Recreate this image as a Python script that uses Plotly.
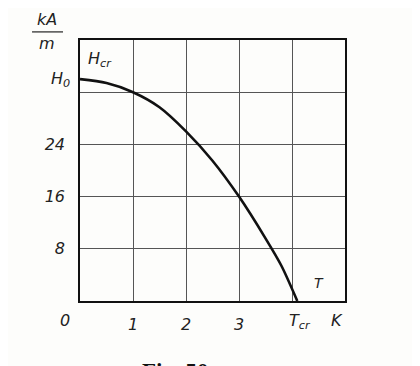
import plotly.graph_objects as go

# Critical field vs temperature
T_vals = [0, 0.5, 1.0, 1.5, 2.0, 2.5, 3.0, 3.5, 3.8, 4.1]
H_vals = [34, 33.4, 32.0, 29.7, 26.0, 21.5, 16.0, 9.6, 5.4, 0]

x_tickvals = [0, 1, 2, 3, 4, 5]
x_ticktext = ["", "<i>1</i>", "<i>2</i>", "<i>3</i>", "", ""]
y_tickvals = [0, 8, 16, 24, 32, 40]
y_ticktext = ["", "<i>8</i>", "<i>16</i>", "<i>24</i>", "", ""]

FONT = "DejaVu Sans"
INK = "#222222"

fig = go.Figure()
fig.add_trace(go.Scatter(
    x=T_vals, y=H_vals, mode="lines",
    line=dict(color="#111111", width=2.6, shape="spline", smoothing=0.8),
    hoverinfo="skip", showlegend=False,
))

fig.update_layout(
    width=412, height=358,
    margin=dict(l=72, r=75, t=32, b=65),
    paper_bgcolor="#fdfdfb", plot_bgcolor="#fdfdfb",
    font=dict(family=FONT, size=16, color=INK),
    xaxis=dict(range=[0, 5], tickvals=x_tickvals, ticktext=x_ticktext,
               showgrid=True, gridcolor="#555555", gridwidth=1,
               showline=True, linecolor="#111111", linewidth=1.5, mirror=True,
               zeroline=False, ticks="", ticklabelstandoff=8,
               tickfont=dict(family=FONT, size=16, color=INK)),
    yaxis=dict(range=[0, 40], tickvals=y_tickvals, ticktext=y_ticktext,
               showgrid=True, gridcolor="#555555", gridwidth=1,
               showline=True, linecolor="#111111", linewidth=1.5, mirror=True,
               zeroline=False, ticks="", ticklabelstandoff=10,
               tickfont=dict(family=FONT, size=16, color=INK)),
)

ann = [
    dict(x=0, y=0, text="<i>0</i>", xanchor="right", yanchor="top", xshift=-8, yshift=-8),
    dict(x=0, y=34, text="<i>H<sub>0</sub></i>", xanchor="right", yanchor="middle", xshift=-8),
    dict(x=0.12, y=39, text="<i>H<sub>cr</sub></i>", xanchor="left", yanchor="top"),
    dict(x=4.15, y=0, text="<i>T<sub>cr</sub></i>", xanchor="center", yanchor="top", yshift=-8),
    dict(x=4.85, y=0, text="<i>K</i>", xanchor="center", yanchor="top", yshift=-8),
    dict(x=4.5, y=2.8, text="<i>T</i>", xanchor="center", yanchor="middle", font=dict(size=14)),
]
for a in ann:
    a.update(xref="x", yref="y", showarrow=False)
    a.setdefault("font", dict(family=FONT, size=16, color=INK))
    a["font"].setdefault("family", FONT)
    a["font"].setdefault("color", INK)
    fig.add_annotation(**a)

# unit fraction kA/m
fig.add_annotation(xref="paper", yref="paper", x=-0.125, y=1.031, yshift=1,
                   text="<i>kA</i>", showarrow=False, xanchor="center", yanchor="bottom",
                   font=dict(family=FONT, size=16, color=INK))
fig.add_annotation(xref="paper", yref="paper", x=-0.125, y=1.031, yshift=0,
                   text="<i>m</i>", showarrow=False, xanchor="center", yanchor="top",
                   font=dict(family=FONT, size=16, color=INK))
fig.add_shape(type="line", xref="paper", yref="paper", x0=-0.181, x1=-0.064,
              y0=1.031, y1=1.031, line=dict(color=INK, width=1.2))

# caption (bottom edge of the page cuts it, as in the scan)
fig.add_annotation(xref="paper", yref="paper", x=0.36, y=0, yshift=-56,
                   text="<b>Fig. 50</b>", showarrow=False, xanchor="center", yanchor="top",
                   font=dict(family="Liberation Serif", size=23, color="#111111"))

fig.write_html("out.html")
